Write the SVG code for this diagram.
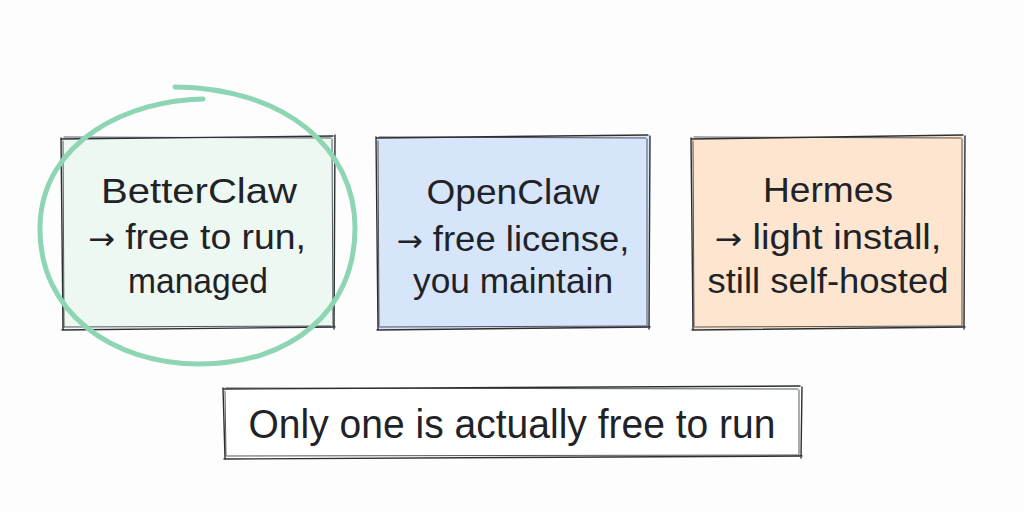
<svg xmlns="http://www.w3.org/2000/svg" width="1024" height="512" viewBox="0 0 1024 512">
<style>
.t{font-family:"Liberation Sans","DejaVu Sans",sans-serif;fill:#1f2328;text-anchor:middle}
.m{font-size:35px}
.b{font-size:41px}
.a{font-family:"DejaVu Sans",sans-serif;font-size:30px}
.e{fill:none;stroke:#2b2f33;stroke-width:1.4;stroke-linecap:round;stroke-linejoin:round}
.e2{fill:none;stroke:#2b2f33;stroke-width:1;stroke-linecap:round;opacity:.8}
</style>
<rect width="1024" height="512" fill="#fdfdfd"/>
<g id="betterclaw">
<path d="M62,138 L334,136 L334,328 L62,329 Z" fill="#eef8f3"/>
<path class="e" d="M61,139 L333,136 M335,135 L334,329 M335,327 L62,330 M63,329 L61,138"/>
<path class="e2" d="M64,137 L331,138 M332,139 L333,326 M331,326 L64,327 M64,327 L63,141"/>
<text class="t m" x="199" y="203" textLength="196" lengthAdjust="spacingAndGlyphs">BetterClaw</text>
<text class="t m" x="197" y="249" textLength="218" lengthAdjust="spacingAndGlyphs"><tspan class="a">→</tspan> free to run,</text>
<text class="t m" x="198" y="293" textLength="140" lengthAdjust="spacingAndGlyphs">managed</text>
</g>
<g id="openclaw">
<path d="M377,137 L649,136 L650,328 L378,329 Z" fill="#d7e5fa"/>
<path class="e" d="M376,138 L648,135 M650,136 L649,329 M650,327 L377,330 M378,329 L376,137"/>
<path class="e2" d="M379,137 L646,138 M647,139 L647,326 M646,326 L380,327 M379,327 L378,141"/>
<text class="t m" x="513" y="204" textLength="173" lengthAdjust="spacingAndGlyphs">OpenClaw</text>
<text class="t m" x="513" y="251" textLength="233" lengthAdjust="spacingAndGlyphs"><tspan class="a">→</tspan> free license,</text>
<text class="t m" x="513" y="293" textLength="200" lengthAdjust="spacingAndGlyphs">you maintain</text>
</g>
<g id="hermes">
<path d="M692,138 L964,136 L965,328 L693,329 Z" fill="#fde5cf"/>
<path class="e" d="M691,139 L963,135 M965,136 L964,329 M965,327 L692,330 M693,329 L691,138"/>
<path class="e2" d="M694,137 L961,138 M962,139 L962,326 M961,326 L695,327 M694,327 L693,141"/>
<text class="t m" x="828" y="202" textLength="130" lengthAdjust="spacingAndGlyphs">Hermes</text>
<text class="t m" x="828" y="249" textLength="227" lengthAdjust="spacingAndGlyphs"><tspan class="a">→</tspan> light install,</text>
<text class="t m" x="828" y="293" textLength="241" lengthAdjust="spacingAndGlyphs">still self-hosted</text>
</g>
<g id="summary">
<path d="M224,388 L801,387 L801,457 L225,458 Z" fill="#ffffff"/>
<path class="e" d="M223,389 L800,386 M802,387 L801,458 M802,456 L224,459 M225,458 L223,388"/>
<path class="e2" d="M226,388 L798,389 M799,390 L799,455 M798,455 L227,456 M226,456 L225,391"/>
<text class="t b" x="512" y="438" textLength="527" lengthAdjust="spacingAndGlyphs">Only one is actually free to run</text>
</g>
<g id="highlight">
<path d="M203,99 C130,100 42,140 40,226 C38,312 112,364 200,364 C290,364 355,312 355,228 C355,148 285,88 175,87" fill="none" stroke="#8ed6b3" stroke-width="5" stroke-linecap="round"/>
</g>
</svg>
